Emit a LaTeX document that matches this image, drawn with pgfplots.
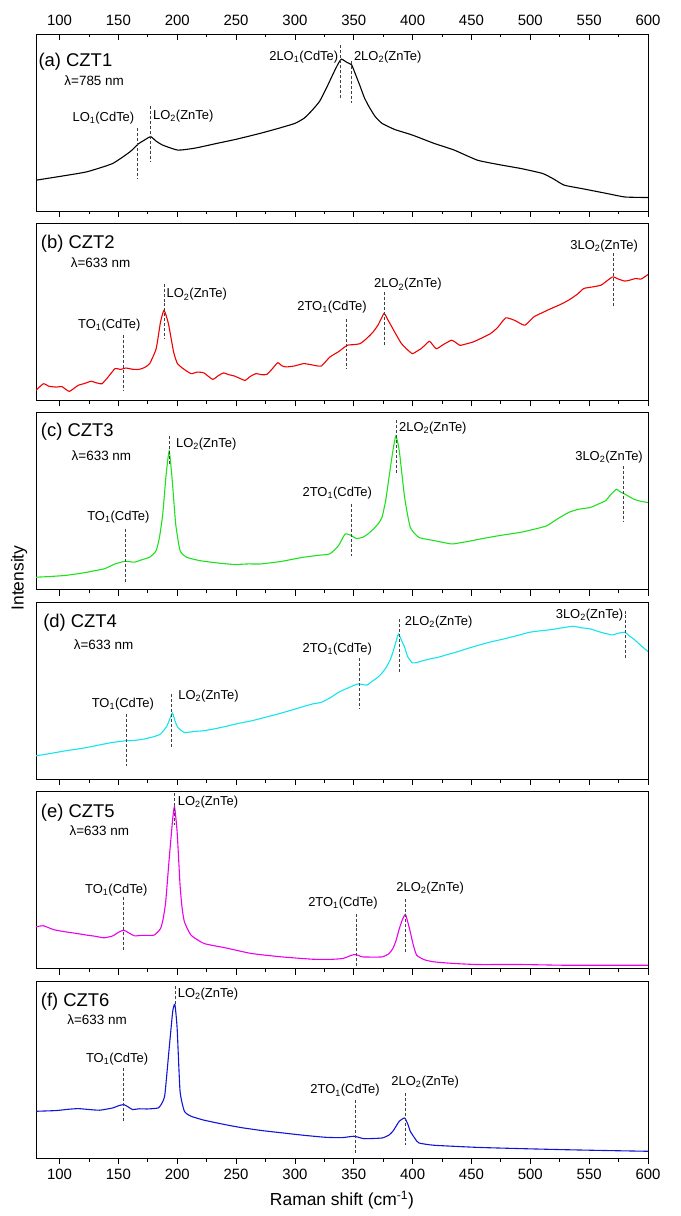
\documentclass[border=0pt]{standalone}
\usepackage{fontspec}
\setmainfont{Liberation Sans}
\usepackage{pgfplots}
\pgfplotsset{compat=1.18}
\definecolor{czred}{RGB}{240,0,0}
\definecolor{czgreen}{RGB}{30,225,30}
\definecolor{czcyan}{RGB}{20,228,235}
\definecolor{czmag}{RGB}{235,0,235}
\definecolor{czblue}{RGB}{20,20,215}
\pgfplotsset{
  panel/.style={scale only axis, width=612bp, height=177bp, anchor=south west,
    xmin=80, xmax=600, ymin=0, ymax=100,
    xtick={100,150,...,600}, minor x tick num=1, xtick pos=left, tick align=outside,
    ytick=\empty, xticklabels={},
    major tick length=6bp, minor tick length=3.5bp,
    axis line style={line width=0.9bp},
    every tick/.style={black, line width=0.8bp},
    tick label style={font=\fontsize{15}{17}\selectfont},
    /pgf/number format/assume math mode=true},
  spec/.style={line width=1.1bp, smooth, tension=0.3},
  mk/.style={densely dashed, line width=0.6bp, black!75, forget plot}
}
\tikzset{
  pk/.style={font=\fontsize{13}{15}\selectfont, inner sep=1pt},
  pl/.style={font=\fontsize{18.5}{20}\selectfont, anchor=west, inner sep=0pt},
  lam/.style={font=\fontsize{13.5}{15}\selectfont, anchor=west, inner sep=0pt}
}
\begin{document}
\begin{tikzpicture}
\path[use as bounding box] (0,0) rectangle (681bp,1216bp);
% ---------------- (a)
\begin{axis}[panel, at={(36bp,1005bp)}]
\addplot[spec, black] coordinates {(80,17.4)(100,19.5)(123,22.1)(145,26.8)(160,33.5)(166.7,37.8)(172,40)(177.4,42)(182,39.5)(187.7,37.2)(200.6,34.4)(215,35.5)(233.8,38.2)(250,40.5)(270.7,43.9)(285,46.5)(300,49.5)(308,52.5)(314.9,57.1)(321,62)(326,68.4)(330,74)(333.4,78.8)(337,83.5)(339.6,85.8)(344,84)(348.1,82.6)(351,78)(355.5,70.3)(359,64)(362.9,59)(368,53.5)(374,49.5)(385,46)(399.8,42.9)(418.2,38.2)(435,34.5)(455.1,28.7)(475,26)(492,24)(510.4,21.2)(520,18)(528.8,14.6)(545,12.5)(565.7,9.8)(580.5,7.9)(600,7.6)};
\addplot[mk] coordinates {(166,46.7)(166,18.3)};
\addplot[mk] coordinates {(177.4,59.4)(177.4,27.8)};
\addplot[mk] coordinates {(338.9,93.6)(338.9,62.8)};
\addplot[mk] coordinates {(348.1,84.5)(348.1,61.2)};
\node[pk, anchor=east] at (axis cs:164.5,52.5) {LO\textsubscript{1}(CdTe)};
\node[pk, anchor=west] at (axis cs:178.5,53.5) {LO\textsubscript{2}(ZnTe)};
\node[pk, anchor=east] at (axis cs:337.8,87) {2LO\textsubscript{1}(CdTe)};
\node[pk, anchor=west] at (axis cs:349.2,87) {2LO\textsubscript{2}(ZnTe)};
\node[pl] at (axis cs:82,84.5) {(a) CZT1};
\node[lam] at (axis cs:104,73.5) {λ=785 nm};
\end{axis}
\begin{axis}[scale only axis, width=612bp, height=177bp, anchor=south west, at={(36bp,1005bp)},
    xmin=80, xmax=600, ymin=0, ymax=100, hide y axis, axis x line*=top, x axis line style={-},
    xtick={100,150,...,600}, minor x tick num=1, tick align=inside, xticklabel pos=right,
    major tick length=6bp, minor tick length=3.5bp,
    axis line style={line width=0.9bp},
    every tick/.style={black, line width=0.8bp},
    tick label style={font=\fontsize{15}{17}\selectfont, yshift=5bp},
    /pgf/number format/assume math mode=true]
\addplot[draw=none] coordinates {(80,0)(600,100)};
\end{axis}
% ---------------- (b)
\begin{axis}[panel, at={(36bp,815.6bp)}]
\addplot[spec, czred] coordinates {(80,5.7)(86.3,9.4)(91,8)(97.3,7.5)(102,7.8)(108.3,5.1)(115.8,8.5)(121,9.5)(126.8,10.8)(131,10)(136,9.4)(141,13)(147.1,17.9)(152,17.5)(156.3,18.3)(162,17.6)(167.4,17.5)(172,18.5)(176.6,20.8)(182.1,29.2)(185.8,44.3)(188.8,50.9)(192.5,43.4)(196.9,27.4)(200,21)(204.3,18.3)(211.7,15.1)(217,16)(222.7,15.5)(230.1,11.9)(235,14)(239.3,15.5)(244,14.5)(248.5,13.8)(253,12.5)(257.7,11.3)(262,13.5)(266.9,15.1)(272,14.5)(276.2,14.7)(281,18)(285.4,21.3)(289,19.5)(292.8,18.9)(300,19.5)(307.5,20.8)(315,20)(322.3,19.4)(329.7,24.5)(337,27.5)(344.4,31.1)(350,31.5)(355.5,32.1)(361,35)(366.5,38.7)(371,43)(375.7,49.1)(379,45.5)(383.1,40.6)(387,36)(390.5,32.1)(395,29)(399.7,26.4)(403,27.5)(407.1,29.2)(411,31.5)(414.5,33.4)(420,29.2)(426,31.5)(432.9,34)(436,33)(440.3,31.1)(446,32)(451.4,33)(458,35)(466.1,37.7)(472,41)(479.1,46.6)(486.4,45.3)(490,44)(495.6,42.5)(503,47.2)(510,49.5)(517.7,51.9)(525,54)(532.5,56.6)(540,60)(545.4,63.2)(552,64)(560.1,65.1)(565,67.5)(570.1,69.8)(575,68.5)(580.4,67.4)(585,68)(589.6,68.9)(594,68.5)(600,71.1)};
\addplot[mk] coordinates {(153.8,36.8)(153.8,5.7)};
\addplot[mk] coordinates {(188.8,66)(188.8,34.9)};
\addplot[mk] coordinates {(343.7,46.2)(343.7,17.9)};
\addplot[mk] coordinates {(375.7,61.3)(375.7,31.1)};
\addplot[mk] coordinates {(570.1,83)(570.1,52.8)};
\node[pk] at (axis cs:142.3,42.5) {TO\textsubscript{1}(CdTe)};
\node[pk, anchor=west] at (axis cs:190,59.8) {LO\textsubscript{2}(ZnTe)};
\node[pk] at (axis cs:331.5,52.8) {2TO\textsubscript{1}(CdTe)};
\node[pk] at (axis cs:396,65.5) {2LO\textsubscript{2}(ZnTe)};
\node[pk] at (axis cs:562.7,87.2) {3LO\textsubscript{2}(ZnTe)};
\node[pl] at (axis cs:84,88.5) {(b) CZT2};
\node[lam] at (axis cs:109.5,78) {λ=633 nm};
\end{axis}
% ---------------- (c)
\begin{axis}[panel, at={(36bp,626.2bp)}]
\addplot[spec, czgreen] coordinates {(80,7.1)(92,7.5)(104.7,8.1)(115,9)(123.2,9.9)(130,10.8)(137.9,11.8)(142,13)(147.1,14.6)(155.6,16.1)(163.7,15.6)(170,17)(176.6,18.4)(182.1,22.1)(185,30)(187.7,42.8)(190.6,65.3)(193.2,78.4)(195.8,61.5)(198.7,37.1)(202.4,22.1)(208,18.4)(219,16.5)(233.8,15.2)(248.5,14.3)(260,14.6)(270.7,14.6)(280,15.3)(289.1,16.1)(300,17.5)(307.5,18.4)(320,19.5)(329.7,20.3)(337.1,25)(342.6,31.5)(348.1,30.6)(352,29)(357.4,29.6)(362,31.5)(366.6,34.3)(371,37.5)(374,40.9)(377,50)(379.5,61.5)(383.2,78.4)(385.8,86.9)(388.7,78.4)(393.2,52.2)(398,35.3)(405.3,29.6)(418.2,27.8)(433,25.9)(440,26.5)(447.7,27.4)(460,29)(473.5,30.6)(492,32.5)(505,34.5)(514.1,36.2)(523,40)(532.5,43.7)(541,45.5)(551,46.5)(558,48.5)(563.9,50.3)(568,53.5)(573.1,56.8)(576,55.5)(580.5,54)(587.9,51.2)(594,50)(600,49.3)};
\addplot[mk] coordinates {(155.6,34.3)(155.6,4.3)};
\addplot[mk] coordinates {(193.2,86.9)(193.2,70.9)};
\addplot[mk] coordinates {(348.1,48.4)(348.1,19.3)};
\addplot[mk] coordinates {(385.8,95.7)(385.8,65.3)};
\addplot[mk] coordinates {(579.4,70)(579.4,39)};
\node[pk] at (axis cs:150,40.9) {TO\textsubscript{1}(CdTe)};
\node[pk, anchor=west] at (axis cs:198,82.2) {LO\textsubscript{2}(ZnTe)};
\node[pk] at (axis cs:336,54.4) {2TO\textsubscript{1}(CdTe)};
\node[pk, anchor=west] at (axis cs:387.5,91.6) {2LO\textsubscript{2}(ZnTe)};
\node[pk] at (axis cs:566.9,75) {3LO\textsubscript{2}(ZnTe)};
\node[pl] at (axis cs:84,89.5) {(c)\ CZT3};
\node[lam] at (axis cs:110.2,76) {λ=633 nm};
\end{axis}
% ---------------- (d)
\begin{axis}[panel, at={(36bp,436.8bp)}]
\addplot[spec, czcyan] coordinates {(80,13.2)(92,14.5)(104.7,16)(115,17)(123.2,17.9)(135,19.5)(145.3,20.8)(156.3,21.7)(165,22)(171.1,22.6)(180,24)(185.8,25.5)(191.4,30.2)(195.8,37.4)(198,33)(200.6,29.2)(206.1,26.4)(215,27)(222.7,27.4)(232,28.5)(241.1,29.8)(252,31.5)(263.3,33)(275,35)(285.4,36.8)(297,39)(307.5,41.1)(315,42.5)(322.3,43.4)(330,46)(337.1,49.1)(345,51.5)(353.6,53.8)(361,53.2)(366,55.5)(370.3,57.5)(374,60)(377.6,63.2)(381,67.5)(383.2,71.7)(386,78)(388,82.1)(390.5,78.5)(393.2,74.5)(396,69)(399.8,65.7)(404,66)(409,67)(415,68)(421.9,68.9)(430,70.5)(436.7,71.7)(445,73.5)(455.1,75.5)(466,77.5)(477.3,79.2)(488,81)(499.4,83)(508,83.8)(517.8,84.5)(527,85.5)(536.3,86.4)(544,85.5)(551,84.9)(560,83)(569.5,81.5)(575,82.5)(580.5,83)(584,81)(587.9,79.2)(594,75.5)(600,72.1)};
\addplot[mk] coordinates {(156.3,36.8)(156.3,7.5)};
\addplot[mk] coordinates {(195.1,48.1)(195.1,17.9)};
\addplot[mk] coordinates {(354.4,68.3)(354.4,39.6)};
\addplot[mk] coordinates {(389.1,90.6)(389.1,60.4)};
\addplot[mk] coordinates {(580.5,95.3)(580.5,67.5)};
\node[pk] at (axis cs:153.8,42.5) {TO\textsubscript{1}(CdTe)};
\node[pk, anchor=west] at (axis cs:200,47.2) {LO\textsubscript{2}(ZnTe)};
\node[pk] at (axis cs:336,73.6) {2TO\textsubscript{1}(CdTe)};
\node[pk, anchor=west] at (axis cs:392.5,89) {2LO\textsubscript{2}(ZnTe)};
\node[pk, anchor=east] at (axis cs:580,92.8) {3LO\textsubscript{2}(ZnTe)};
\node[pl] at (axis cs:86,88.5) {(d)\ CZT4};
\node[lam] at (axis cs:112,76) {λ=633 nm};
\end{axis}
% ---------------- (e)
\begin{axis}[panel, at={(36bp,247.4bp)}]
\addplot[spec, czmag] coordinates {(80,23.6)(86.3,24.2)(95,22)(104.7,20.8)(115,19.8)(123.2,18.9)(130,18.3)(137.9,17.4)(145.3,18.5)(150,20.5)(154.5,21.7)(158,20.5)(163.7,18.5)(170,18.8)(180.3,18.9)(185.8,22.6)(188,28)(190.2,37.7)(193.2,62.3)(196.2,84.9)(197.7,91.5)(199.9,77.4)(202.4,47.2)(204,35)(206.1,26.4)(211.7,18.9)(222.7,14.2)(241.1,11.7)(263.3,8.5)(289.1,6.6)(314.9,5.3)(330,5.2)(340.8,5.7)(346,7)(350,7.9)(354,7.5)(357.4,6.6)(374,6.6)(380,8.5)(383.2,11.3)(386,16)(388.7,22.6)(391.5,28)(393.9,30.6)(396,26)(398,20.8)(400.5,13.5)(403.5,7.5)(410,5)(418.2,3.8)(435,2.9)(455.1,2.3)(492,2.3)(528.8,1.9)(565.7,1.9)(600,1.9)};
\addplot[mk] coordinates {(154.5,40.6)(154.5,9.8)};
\addplot[mk] coordinates {(197.7,99)(197.7,81.1)};
\addplot[mk] coordinates {(352.5,31.1)(352.5,0.4)};
\addplot[mk] coordinates {(394.2,39.2)(394.2,8.5)};
\node[pk] at (axis cs:148.2,44.3) {TO\textsubscript{1}(CdTe)};
\node[pk, anchor=west] at (axis cs:199.5,94) {LO\textsubscript{2}(ZnTe)};
\node[pk] at (axis cs:340.8,36.8) {2TO\textsubscript{1}(CdTe)};
\node[pk] at (axis cs:414.9,45.3) {2LO\textsubscript{2}(ZnTe)};
\node[pl] at (axis cs:84,88) {(e) CZT5};
\node[lam] at (axis cs:108.4,78) {λ=633 nm};
\end{axis}
% ---------------- (f)
\begin{axis}[panel, at={(36bp,58bp)}, xticklabels={100,150,200,250,300,350,400,450,500,550,600},
   xticklabel style={yshift=-2bp},
   xlabel={Raman shift (cm\textsuperscript{-1})},
   xlabel style={font=\fontsize{17.5}{20}\selectfont, yshift=-4bp}]
\addplot[spec, czblue] coordinates {(80,26.4)(97.3,26.8)(107,27.5)(115.8,27.9)(125,27.4)(134.2,27)(145.3,28.3)(150,29.5)(154.5,30.2)(158,29)(161.9,27.4)(168,27.8)(174.8,27.7)(184,28.3)(187,31)(189.5,35.8)(193.2,62.3)(196.2,83)(198,86.8)(199.9,73.6)(202.4,37.7)(206.1,26.4)(211.7,23.6)(222,21.5)(233.8,19.8)(245,18.3)(256,17)(272,15.5)(289.1,14.2)(308,12.8)(326,11.7)(340,11.5)(350,12.3)(355,11.5)(359.2,10.9)(374,11.3)(380,13)(383.2,15.1)(386,18)(388.7,20.8)(393.2,22.6)(396,19)(398,15.1)(402,11)(405.3,8.5)(418.2,7.2)(455.1,6)(492,5.3)(528.8,4.7)(565.7,4.2)(600,3.8)};
\addplot[mk] coordinates {(154.5,50.9)(154.5,20.8)};
\addplot[mk] coordinates {(198,97.2)(198,86.8)};
\addplot[mk] coordinates {(351,32.5)(351,1.9)};
\addplot[mk] coordinates {(394.2,36.8)(394.2,7.5)};
\node[pk] at (axis cs:148.9,56) {TO\textsubscript{1}(CdTe)};
\node[pk, anchor=west] at (axis cs:199.5,92.5) {LO\textsubscript{2}(ZnTe)};
\node[pk] at (axis cs:342.6,38.1) {2TO\textsubscript{1}(CdTe)};
\node[pk] at (axis cs:410.7,43) {2LO\textsubscript{2}(ZnTe)};
\node[pl] at (axis cs:84,88.5) {(f) CZT6};
\node[lam] at (axis cs:106.5,78) {λ=633 nm};
\end{axis}
\node[rotate=90, font=\fontsize{17.5}{20}\selectfont] at (19bp,638bp) {Intensity};
\end{tikzpicture}
\end{document}
